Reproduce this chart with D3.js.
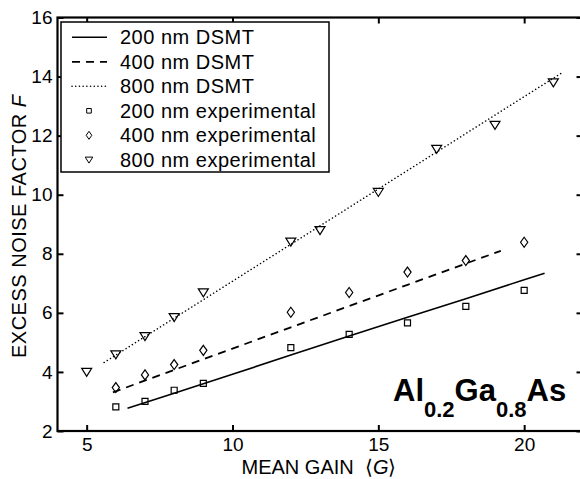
<!DOCTYPE html>
<html>
<head>
<meta charset="utf-8">
<script src="https://cdn.jsdelivr.net/npm/d3@7"></script>
<style>
  body { margin: 0; background: #fff; }
  svg { display: block; font-family: "Liberation Sans", Arial, Helvetica, sans-serif; }
</style>
</head>
<body>
<svg id="chart" width="580" height="479"></svg>
<script>
// gain values of the measured points
const gain200 = [6, 7, 8, 9, 12, 14, 16, 18, 20];
const noise200 = [2.82, 3.0, 3.38, 3.61, 4.82, 5.27, 5.66, 6.22, 6.76];
const gain400 = [6, 7, 8, 9, 12, 14, 16, 18, 20];
const noise400 = [3.47, 3.9, 4.25, 4.73, 6.02, 6.69, 7.38, 7.77, 8.39];
const gain800 = [5, 6, 7, 8, 9, 12, 13, 15, 17, 19, 21];
const noise800 = [4.0, 4.59, 5.21, 5.85, 6.69, 8.41, 8.8, 10.09, 11.55, 12.36, 13.8];

// DSMT model curves
const dsmtGain200 = [6.4, 8, 10, 12, 14, 16, 18, 20, 20.7];
const dsmtNoise200 = [2.77, 3.28, 3.92, 4.57, 5.22, 5.85, 6.48, 7.12, 7.34];
const dsmtGain400 = [5.9, 8, 10, 12, 14, 16, 18, 19.2];
const dsmtNoise400 = [3.31, 4.07, 4.79, 5.51, 6.23, 6.95, 7.67, 8.1];
const dsmtGain800 = [5.6, 8, 10, 12, 14, 16, 18, 20, 21.3];
const dsmtNoise800 = [4.32, 5.82, 7.07, 8.32, 9.57, 10.82, 12.07, 13.32, 14.13];

const xTicks = [5, 10, 15, 20];
const yTicks = [2, 4, 6, 8, 10, 12, 14, 16];

const legendLabels = [
  '200 nm DSMT', '400 nm DSMT', '800 nm DSMT',
  '200 nm experimental', '400 nm experimental', '800 nm experimental',
];

const svg = d3.select('#chart');
const plot = { left: 57.5, right: 582.5, top: 17.5, bottom: 431 };

const x = d3.scaleLinear().domain([4, 22]).range([plot.left, plot.right]);
const y = d3.scaleLinear().domain([2, 16]).range([plot.bottom, plot.top]);

const zip = (a, b) => a.map((v, i) => [v, b[i]]);

// marker paths
const squarePath = (s) => `M${-s},${-s}h${2 * s}v${2 * s}h${-2 * s}Z`;
const diamondPath = (w, h) => `M0,${-h}L${w},0L0,${h}L${-w},0Z`;
const trianglePath = (w, h) => `M${-w},${-h * 0.45}L${w},${-h * 0.45}L0,${h * 0.55}Z`;

const line = d3.line().x(d => x(d[0])).y(d => y(d[1]));

const curves = [
  { data: zip(dsmtGain200, dsmtNoise200), dash: null, width: 1.6, cap: 'butt' },
  { data: zip(dsmtGain400, dsmtNoise400), dash: '8,6', width: 1.8, cap: 'butt' },
  { data: zip(dsmtGain800, dsmtNoise800), dash: '0.1,3.6', width: 1.5, cap: 'round' },
];

svg.selectAll('path.curve')
  .data(curves)
  .join('path')
  .attr('class', 'curve')
  .attr('d', d => line(d.data))
  .attr('fill', 'none')
  .attr('stroke', '#000')
  .attr('stroke-width', d => d.width)
  .attr('stroke-linecap', d => d.cap)
  .attr('stroke-dasharray', d => d.dash);

const points = [
  { data: zip(gain200, noise200), shape: squarePath(3) },
  { data: zip(gain400, noise400), shape: diamondPath(3.6, 5) },
  { data: zip(gain800, noise800), shape: trianglePath(5, 8) },
];

points.forEach((p) => {
  svg.append('g')
    .selectAll('path')
    .data(p.data)
    .join('path')
    .attr('transform', d => `translate(${x(d[0])},${y(d[1])})`)
    .attr('d', p.shape)
    .attr('fill', 'none')
    .attr('stroke', '#000')
    .attr('stroke-width', 1.2);
});

// axes, ticks pointing inward on all four sides
const tickFont = (g) => g.selectAll('text')
  .attr('font-size', 19)
  .attr('fill', '#000')
  .attr('font-family', '"Liberation Sans", Arial, sans-serif');

const styleAxis = (g) => {
  g.select('.domain').remove();
  g.selectAll('.tick line').attr('stroke', '#000').attr('stroke-width', 2);
};

svg.append('g')
  .attr('transform', `translate(0,${plot.bottom})`)
  .call(d3.axisBottom(x).tickValues(xTicks).tickSizeInner(-6).tickPadding(7))
  .call(styleAxis)
  .call(tickFont);

svg.append('g')
  .attr('transform', `translate(0,${plot.top})`)
  .call(d3.axisTop(x).tickValues(xTicks).tickSizeInner(-6).tickFormat(''))
  .call(styleAxis);

svg.append('g')
  .attr('transform', `translate(${plot.left},0)`)
  .call(d3.axisLeft(y).tickValues(yTicks).tickSizeInner(-6).tickPadding(5))
  .call(styleAxis)
  .call(tickFont);

svg.append('g')
  .attr('transform', `translate(${plot.right},0)`)
  .call(d3.axisRight(y).tickValues(yTicks).tickSizeInner(-6).tickFormat(''))
  .call(styleAxis);

svg.append('rect')
  .attr('x', plot.left)
  .attr('y', plot.top)
  .attr('width', plot.right - plot.left)
  .attr('height', plot.bottom - plot.top)
  .attr('fill', 'none')
  .attr('stroke', '#000')
  .attr('stroke-width', 2.2);

// axis titles
const xTitle = svg.append('text')
  .attr('x', (plot.left + plot.right) / 2 - 1)
  .attr('y', 474)
  .attr('text-anchor', 'middle')
  .attr('font-size', 20)
  .style('white-space', 'pre');
xTitle.append('tspan').text('MEAN GAIN  \u27E8');
xTitle.append('tspan').attr('font-style', 'italic').text('G');
xTitle.append('tspan').text('\u27E9');

const yTitle = svg.append('text')
  .attr('transform', `translate(26,${(plot.top + plot.bottom) / 2 + 2}) rotate(-90)`)
  .attr('text-anchor', 'middle')
  .attr('font-size', 20)
  .style('letter-spacing', '0.5px')
  .style('white-space', 'pre');
yTitle.append('tspan').text('EXCESS NOISE FACTOR ');
yTitle.append('tspan').attr('font-style', 'italic').text('F');

// legend
const legend = svg.append('g');
legend.append('rect')
  .attr('x', 61)
  .attr('y', 22)
  .attr('width', 268)
  .attr('height', 150)
  .attr('fill', '#fff')
  .attr('stroke', '#000')
  .attr('stroke-width', 1.5);

const rowBase = (i) => 44.3 + i * 24.5;

legend.selectAll('path.sample')
  .data(curves)
  .join('path')
  .attr('class', 'sample')
  .attr('d', (d, i) => `M72,${rowBase(i) - 7}H107`)
  .attr('fill', 'none')
  .attr('stroke', '#000')
  .attr('stroke-width', d => d.width)
  .attr('stroke-linecap', d => d.cap)
  .attr('stroke-dasharray', d => d.dash);

const legendShapes = [squarePath(2.3), diamondPath(2.8, 4), trianglePath(3.8, 6)];
legend.selectAll('path.mark')
  .data(legendShapes)
  .join('path')
  .attr('class', 'mark')
  .attr('transform', (d, i) => `translate(89,${rowBase(i + 3) - 7})`)
  .attr('d', d => d)
  .attr('fill', 'none')
  .attr('stroke', '#000')
  .attr('stroke-width', 1);

legend.selectAll('text')
  .data(legendLabels)
  .join('text')
  .attr('x', 120)
  .attr('y', (d, i) => rowBase(i))
  .attr('font-size', 20)
  .style('letter-spacing', '0.5px')
  .text(d => d);

// material label
const mat = svg.append('text')
  .attr('x', 393)
  .attr('y', 401)
  .attr('font-size', 31)
  .attr('font-weight', 'bold');
mat.append('tspan').text('Al');
mat.append('tspan').attr('font-size', 22).attr('dy', 16).text('0.2');
mat.append('tspan').attr('dy', -16).text('Ga');
mat.append('tspan').attr('font-size', 22).attr('dy', 16).text('0.8');
mat.append('tspan').attr('dy', -16).text('As');
</script>
</body>
</html>
